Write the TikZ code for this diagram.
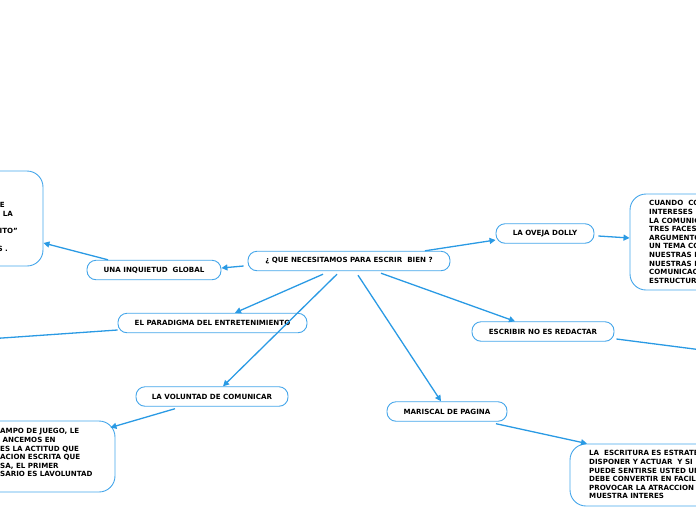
\documentclass[tikz,border=0pt]{standalone}
\usepackage{fontspec}
\setmainfont{DejaVu Sans}
\usetikzlibrary{arrows.meta}
\definecolor{mmblue}{HTML}{2A9AE4}
\definecolor{mmbord}{HTML}{45A6EA}
\tikzset{
 topic/.style={draw=mmbord, line width=0.9pt, rounded corners=9pt, minimum height=19.5pt, inner sep=0pt, font=\fontsize{7.1}{8.6}\selectfont\bfseries, fill=white},
 conn/.style={draw=mmblue, line width=1.3pt, -{Triangle[length=6pt,width=6pt]}},
 plainconn/.style={draw=mmblue, line width=1.3pt},
 bigbox/.style={draw=mmbord, line width=0.9pt, rounded corners=16pt, inner sep=0pt},
 txt/.style={font=\fontsize{7.1}{8.6}\selectfont\bfseries, inner sep=0pt, align=left},
}
\begin{document}
\begin{tikzpicture}[x=1pt,y=-1pt]
\useasboundingbox (0,0) rectangle (696,520);
\clip (0,0) rectangle (696,520);

% big boxes
\node[bigbox, minimum width=103pt, minimum height=95pt] (lb) at (-8.5,218.5) {};
\node[bigbox, minimum width=130pt, minimum height=96pt] (rb) at (695,242) {};
\node[bigbox, minimum width=155pt, minimum height=71pt] (bl) at (37.5,456.5) {};
\node[bigbox, minimum width=190pt, minimum height=62pt] (br) at (665,475) {};

% topics
\node[topic, minimum width=202pt] (c) at (349,261) {¿ QUE NECESITAMOS PARA ESCRIR\ \ BIEN ?};
\node[topic, minimum width=134pt] (una) at (154,270) {UNA INQUIETUD\ \ GLOBAL};
\node[topic, minimum width=98pt] (ov) at (545,233.5) {LA OVEJA DOLLY};
\node[topic, minimum width=189pt] (par) at (212.5,323) {EL PARADIGMA DEL ENTRETENIMIENTO};
\node[topic, minimum width=142pt] (esc) at (543,331.5) {ESCRIBIR NO ES REDACTAR};
\node[topic, minimum width=152pt] (vol) at (212,396.5) {LA VOLUNTAD DE COMUNICAR};
\node[topic, minimum width=120pt] (mar) at (447,411.5) {MARISCAL DE PAGINA};

% texts in big boxes
\node[txt, anchor=base east] (l1) at (5,207.5) {E};
\node[txt, anchor=base east] (l2) at (13,216.5) {LA};
\node[txt, anchor=base east] (l3) at (18,233.5) {ITO\symbol{34}};
\node[txt, anchor=base east] (l4) at (8,251.5) {S .};

\node[txt, anchor=north west] (rt) at (649,200.5) {CUANDO\ \ CO\\INTERESES\\LA COMUNIC\\TRES FACES\\ARGUMENTO\\UN TEMA CO\\NUESTRAS I\\NUESTRAS I\\COMUNICAC\\ESTRUCTUR};
\node[txt, anchor=north west] (blt) at (0,428.5) {AMPO DE JUEGO, LE\\\ ANCEMOS EN\\ES LA ACTITUD QUE\\ACION ESCRITA QUE\\SA, EL PRIMER\\SARIO ES LAVOLUNTAD};
\node[txt, anchor=north west] (brt) at (589,450.5) {LA\ \ ESCRITURA ES ESTRATE\\DISPONER Y ACTUAR\ \ Y SI\\PUEDE SENTIRSE USTED UN\\DEBE CONVERTIR EN FACIL\\PROVOCAR LA ATRACCION\\MUESTRA INTERES};

% free ends
\coordinate (offL) at (-5,338.5);
\coordinate (offR) at (702,350);

% connectors
\draw[conn] ([xshift=-4pt,yshift=-5pt]c.west) -- ([yshift=2pt]una.east);
\draw[conn] ([xshift=-46pt]una.north) -- ([yshift=-24.5pt]lb.east);
\draw[conn] ([xshift=76pt]c.north) -- ([yshift=-6.5pt]ov.west);
\draw[conn] ([xshift=4pt,yshift=-2.5pt]ov.east) -- ([yshift=4pt]rb.west);
\draw[conn] ([xshift=-26pt,yshift=-3pt]c.south) -- ([xshift=22.5pt]par.north);
\draw[plainconn] ([yshift=-7pt]par.west) -- (offL);
\draw[conn] ([xshift=-12pt,yshift=-3pt]c.south) -- ([xshift=11pt]vol.north);
\draw[conn] ([xshift=-37pt,yshift=-2pt]vol.south) -- ([xshift=-5pt,yshift=-7pt]bl.north east);
\draw[conn] ([xshift=9pt,yshift=-4pt]c.south) -- ([xshift=-6pt]mar.north);
\draw[conn] ([xshift=32pt,yshift=-2pt]c.south) -- ([xshift=-28pt]esc.north);
\draw[plainconn] ([xshift=2pt,yshift=-7.5pt]esc.east) -- (offR);
\draw[conn] ([xshift=49pt,yshift=-2pt]mar.south) -- ([xshift=-78pt]br.north);
\end{tikzpicture}
\end{document}
